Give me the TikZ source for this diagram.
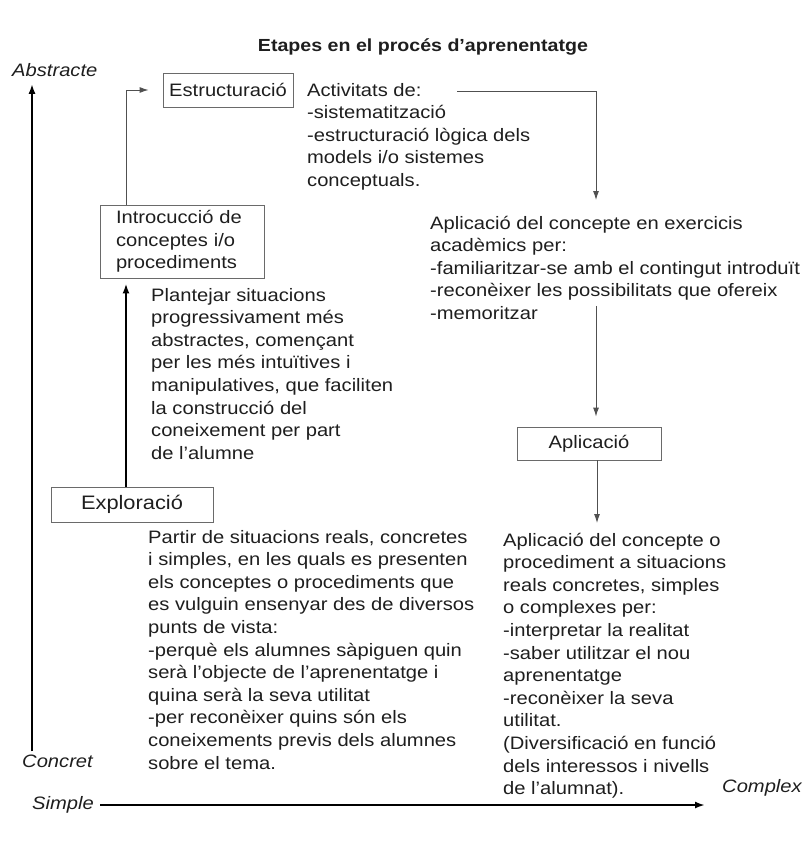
\documentclass[tikz,border=0pt]{standalone}
\usepackage{fontspec}
\setmainfont[FakeStretch=1.12]{Liberation Sans}
\usetikzlibrary{arrows.meta}
\definecolor{ink}{HTML}{1E1E1E}
\definecolor{wire}{HTML}{505050}
\definecolor{frame}{HTML}{6A6A6A}
\tikzset{
  x=1pt, y=-1pt,
  every node/.style={text=ink, font=\fontsize{18}{22.6}\selectfont},
  body/.style={anchor=north west, inner sep=0pt, align=left},
  axislabel/.style={font=\fontsize{18}{22.6}\selectfont\itshape, inner sep=0pt},
  stagebox/.style={draw=frame, line width=0.9pt, inner sep=0pt, align=center},
  conn/.style={draw=wire, line width=0.9pt, -{Latex[length=9pt,width=6pt]}},
  thickconn/.style={draw=black, line width=2.2pt, -{Latex[length=10pt,width=7pt]}},
}
\begin{document}
\begin{tikzpicture}
\useasboundingbox (0,0) rectangle (810,846);

% title
\node[font=\fontsize{17.5}{21}\selectfont\bfseries] (title) at (423,47) {Etapes en el procés d’aprenentatge};

% axis labels
\node[axislabel, anchor=west] (abstr) at (12,70) {Abstracte};
\node[axislabel, anchor=west] (concr) at (22,761) {Concret};
\node[axislabel, anchor=west] (simple) at (32,805) {Simple};
\node[axislabel, anchor=west] (complex) at (722,788) {Complex};

% helper columns for vertical connectors
\coordinate (axisV) at (32,0);
\coordinate (colL) at (126,0);
\coordinate (colR) at (596,0);
\coordinate (colR2) at (597,0);
\coordinate (actout) at (457,91);

% stage boxes
\node[stagebox, minimum width=130pt, minimum height=34pt] (estr) at (228,90) {Estructuració};
\node[stagebox, text width=132pt, inner xsep=16pt, minimum height=73pt, align=left] (intro) at (182,241.5)
  {Introcucció de\\conceptes i/o\\procediments};
\node[stagebox, minimum width=162pt, minimum height=35pt, font=\fontsize{19.5}{23}\selectfont] (expl) at (132,504.5) {Exploració};
\node[stagebox, minimum width=144pt, minimum height=33pt] (aplbox) at (589,443.5) {Aplicació};

% descriptive texts
\node[body] (activ) at (307,80) {\strut Activitats de:\\-sistematització\\-estructuració lògica dels\\models i/o sistemes\\conceptuals.};
\node[body] (aplic1) at (430,213) {\strut Aplicació del concepte en exercicis\\acadèmics per:\\-familiaritzar-se amb el contingut introduït\\-reconèixer les possibilitats que ofereix\\-memoritzar};
\node[body] (plant) at (151,285) {\strut Plantejar situacions\\progressivament més\\abstractes, començant\\per les més intuïtives i\\manipulatives, que faciliten\\la construcció del\\coneixement per part\\de l’alumne};
\node[body] (partir) at (148,527) {\strut Partir de situacions reals, concretes\\i simples, en les quals es presenten\\els conceptes o procediments que\\es vulguin ensenyar des de diversos\\punts de vista:\\-perquè els alumnes sàpiguen quin\\serà l’objecte de l’aprenentatge i\\quina serà la seva utilitat\\-per reconèixer quins són els\\coneixements previs dels alumnes\\sobre el tema.};
\node[body] (aplic2) at (503,530) {\strut Aplicació del concepte o\\procediment a situacions\\reals concretes, simples\\o complexes per:\\-interpretar la realitat\\-saber utilitzar el nou\\aprenentatge\\-reconèixer la seva\\utilitat.\\(Diversificació en funció\\dels interessos i nivells\\de l’alumnat).};

% axes
\draw[thickconn] ([yshift=3pt]concr.north -| axisV) -- ([yshift=-7pt]abstr.south -| axisV);
\draw[thickconn, shorten <=6pt, shorten >=17pt] (simple.east) -- (complex.west |- simple.east);

% connectors between stages
\draw[thickconn, shorten >=5pt] (expl.north -| colL) -- (intro.south -| colL);
\draw[conn, shorten >=14pt] (intro.north -| colL) |- (estr.west);
\draw[conn] (actout) -| ([yshift=13pt]aplic1.north -| colR);
\draw[conn, shorten >=10pt] ([yshift=14pt]aplic1.south -| colR) -- (aplbox.north -| colR);
\draw[conn] (aplbox.south -| colR2) -- ([yshift=7pt]aplic2.north -| colR2);
\end{tikzpicture}
\end{document}
